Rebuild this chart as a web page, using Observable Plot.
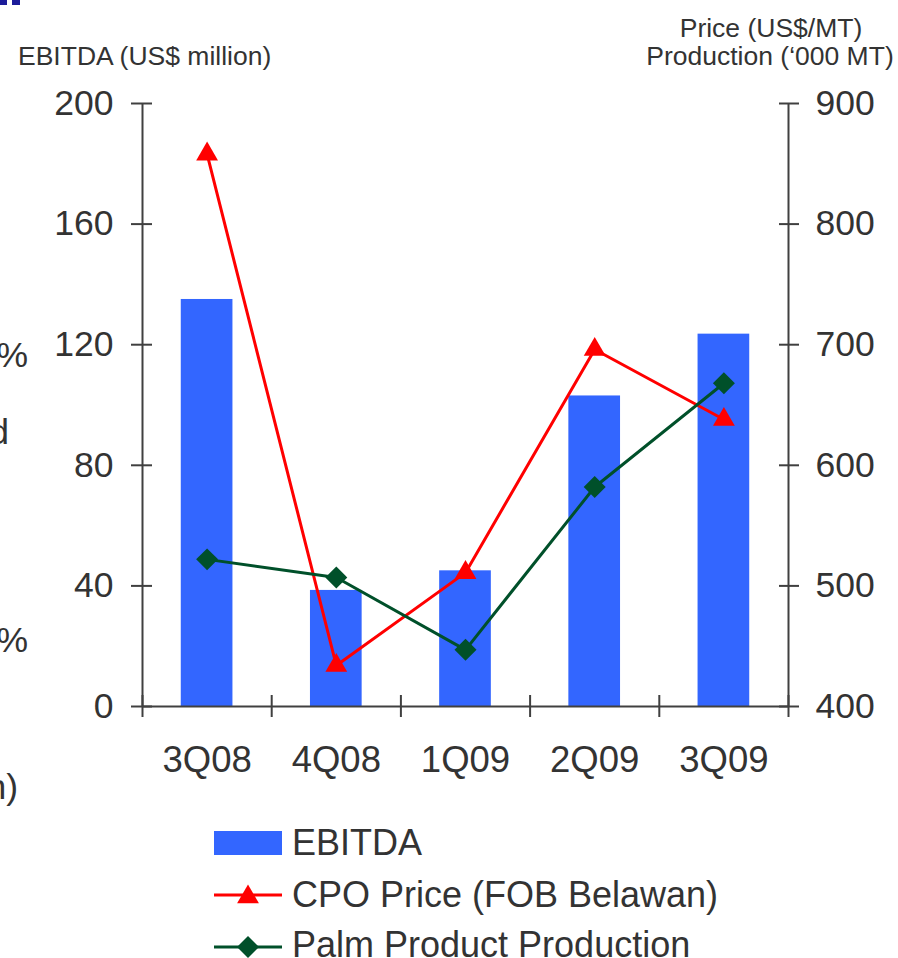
<!DOCTYPE html>
<html>
<head>
<meta charset="utf-8">
<script src="https://cdn.jsdelivr.net/npm/d3@7"></script>
<script src="https://cdn.jsdelivr.net/npm/@observablehq/plot@0.6"></script>
<style>
  html, body { margin: 0; padding: 0; background: #fff; }
  #wrap { position: relative; width: 898px; height: 958px; overflow: hidden; font-family: 'Liberation Sans', Arial, sans-serif; color: #333; }
  #wrap svg { position: absolute; left: 0; top: 0; }
  .t { position: absolute; line-height: 1; white-space: nowrap; }
</style>
</head>
<body>
<div id="wrap"></div>
<script>
// ---- data ----
const quarters = ["3Q08", "4Q08", "1Q09", "2Q09", "3Q09"];
const ebitda = [135, 38.5, 45, 103, 123.5];          // US$ million (left axis)
const cpoPrice = [858, 434, 511, 696, 638];          // US$/MT (right axis)
const production = [522, 507, 447, 582, 668];        // '000 MT (right axis)
const leftTicks = [0, 40, 80, 120, 160, 200];
const rightTicks = [400, 500, 600, 700, 800, 900];
const rightMin = 400, rightMax = 900, leftMax = 200;

const toLeft = p => (p - rightMin) * leftMax / (rightMax - rightMin);
const fromLeft = v => Math.round(rightMin + v * (rightMax - rightMin) / leftMax);

const data = quarters.map((q, i) => ({q, i, ebitda: ebitda[i], price: cpoPrice[i], prod: production[i]}));

const axisColor = "#404040";
const textColor = "#333333";
const barColor = "#3366FF";
const red = "#FF0000";
const green = "#00502A";
const fs = 35.5;
const fsX = 36.5;
const fsLeg = 36;

const chart = Plot.plot({
  width: 898,
  height: 958,
  marginLeft: 142,
  marginRight: 110,
  marginTop: 103,
  marginBottom: 252,
  x: {domain: [0, quarters.length], label: null},
  y: {domain: [0, leftMax], label: null},
  style: {fontFamily: "'Liberation Sans', Arial, sans-serif", fontSize: fs + "px", color: textColor, background: "transparent", overflow: "visible"},
  marks: [
    Plot.rectY(data, {x1: d => d.i + 0.3, x2: d => d.i + 0.7, y: "ebitda", fill: barColor}),
    // axis lines
    Plot.ruleY([0], {stroke: axisColor, strokeWidth: 2}),
    Plot.ruleX([0, quarters.length], {stroke: axisColor, strokeWidth: 2}),
    // x category boundary ticks (crossing)
    Plot.axisX(d3.range(quarters.length + 1), {tickSize: 22, dy: -11, tickFormat: () => "", stroke: axisColor, strokeWidth: 2, label: null}),
    // x labels
    Plot.axisX(quarters.map((q, i) => i + 0.5), {tickSize: 0, tickPadding: 40, tickFormat: d => quarters[Math.floor(d)], fontSize: fsX, fill: textColor, label: null}),
    // left axis ticks + labels
    Plot.axisY(leftTicks, {anchor: "left", tickSize: 21, dx: 10, tickFormat: () => "", stroke: axisColor, strokeWidth: 2, label: null}),
    Plot.axisY(leftTicks, {anchor: "left", tickSize: 0, tickPadding: 29, fontSize: fs, fill: textColor, label: null}),
    // right axis ticks + labels
    Plot.axisY(rightTicks.map(toLeft), {anchor: "right", tickSize: 20, dx: -10, tickFormat: () => "", stroke: axisColor, strokeWidth: 2, label: null}),
    Plot.axisY(rightTicks.map(toLeft), {anchor: "right", tickSize: 0, tickPadding: 27, tickFormat: fromLeft, fontSize: fs, fill: textColor, label: null}),
    // CPO price
    Plot.line(data, {x: d => d.i + 0.5, y: d => toLeft(d.price), stroke: red, strokeWidth: 3}),
    Plot.dot(data, {x: d => d.i + 0.5, y: d => toLeft(d.price), symbol: "triangle", r: 8.1, fill: red, stroke: "none"}),
    // Palm product production
    Plot.line(data, {x: d => d.i + 0.5, y: d => toLeft(d.prod), stroke: green, strokeWidth: 3}),
    Plot.dot(data, {x: d => d.i + 0.5, y: d => toLeft(d.prod), symbol: "diamond2", r: 9.9, fill: green, stroke: "none"})
  ]
});

const wrap = document.getElementById("wrap");
wrap.appendChild(chart);

// text helper: x, baseline y, size, anchor
function place(str, x, baseline, size, anchor = "start", color = textColor) {
  const el = document.createElement("div");
  el.className = "t";
  el.textContent = str;
  el.style.fontSize = size + "px";
  el.style.color = color;
  el.style.top = (baseline - 0.8465 * size) + "px";
  if (anchor === "start") el.style.left = x + "px";
  else if (anchor === "end") el.style.right = (898 - x) + "px";
  else { el.style.left = x + "px"; el.style.transform = "translateX(-50%)"; }
  wrap.appendChild(el);
}

// axis titles
place("EBITDA (US$ million)", 18, 65, 26.5, "start");
place("Price (US$/MT)", 771, 37, 26.5, "middle");
place("Production (\u2018000 MT)", 770, 65, 26.5, "middle");

// clipped fragments of neighbouring slide text at the left edge
place("%", 28, 368, fs, "end");
place("d", 9, 445, fs, "end");
place("%", 28, 653, fs, "end");
place("n)", 18, 800, fs, "end");

// title fragment at top-left corner
const frag = document.createElement("div");
frag.style.cssText = "position:absolute;left:0;top:0;width:7px;height:5px;background:#1c1c9a;";
wrap.appendChild(frag);
const frag2 = document.createElement("div");
frag2.style.cssText = "position:absolute;left:12px;top:0;width:8px;height:5px;background:#1c1c9a;";
wrap.appendChild(frag2);

// legend
const ns = "http://www.w3.org/2000/svg";
const leg = document.createElementNS(ns, "svg");
leg.setAttribute("width", 898);
leg.setAttribute("height", 958);
leg.style.pointerEvents = "none";
const sym = (type, size) => d3.symbol(type, size)();
leg.innerHTML = `
  <rect x="214" y="831" width="68" height="24" fill="${barColor}"/>
  <line x1="214" x2="282" y1="895" y2="895" stroke="${red}" stroke-width="3"/>
  <path transform="translate(248,897)" d="${sym(d3.symbolTriangle, 206)}" fill="${red}"/>
  <line x1="214" x2="282" y1="947" y2="947" stroke="${green}" stroke-width="3"/>
  <path transform="translate(248,947)" d="${sym(d3.symbolDiamond2, 308)}" fill="${green}"/>
`;
wrap.appendChild(leg);
place("EBITDA", 292, 855, fsLeg, "start");
place("CPO Price (FOB Belawan)", 292, 907, fsLeg, "start");
place("Palm Product Production", 292, 957, fsLeg, "start");
</script>
</body>
</html>
